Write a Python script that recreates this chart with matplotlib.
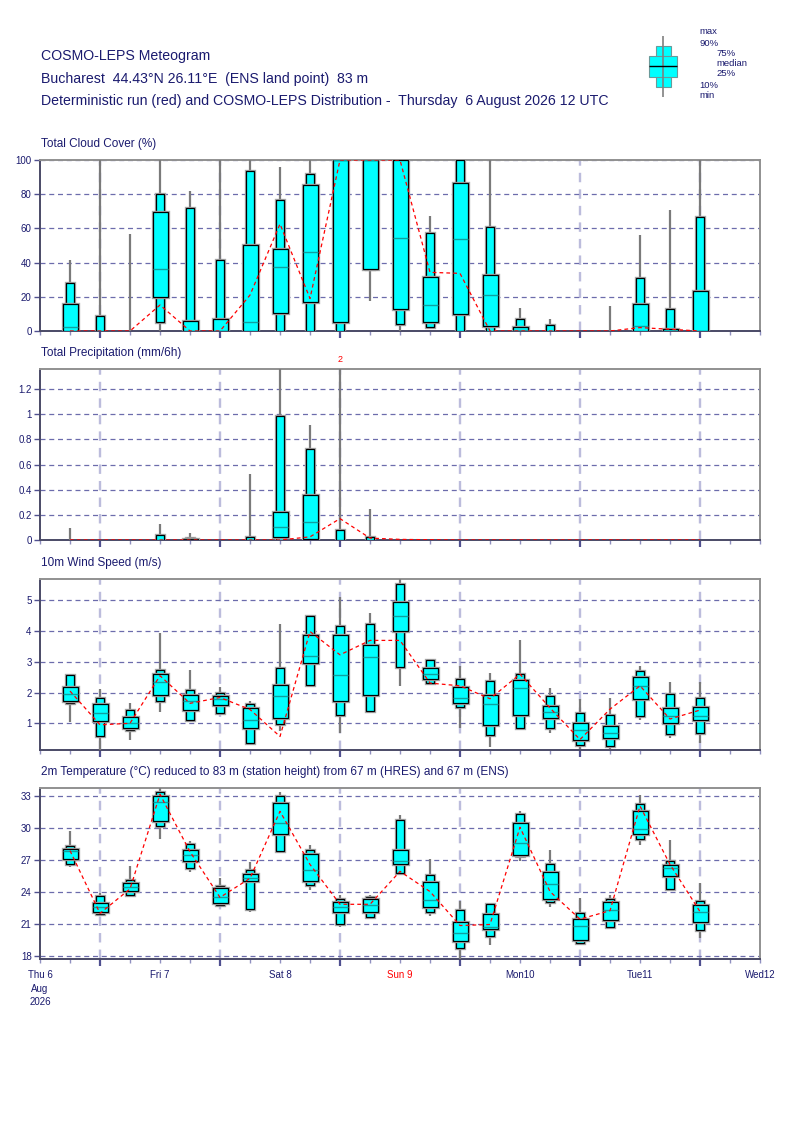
"""COSMO-LEPS meteogram for Bucharest, boxes per 6h step."""

import matplotlib
matplotlib.use('Agg')
import matplotlib.pyplot as plt
import matplotlib.patheffects as pe
import numpy as np

plt.rcParams['font.family'] = ['Liberation Sans Narrow', 'Liberation Sans', 'DejaVu Sans']

W, H = 800, 1131
NAVY = '#1a1a6e'

# forecast steps, hours after Thu 6 Aug 00 UTC
hours = [6, 12, 18, 24, 30, 36, 42, 48, 54, 60, 66,
         72, 78, 84, 90, 96, 102, 108, 114, 120, 126, 132]

day_ticks = [0, 24, 48, 72, 96, 120, 144]
day_labels = ['Thu 6\nAug\n2026', 'Fri 7', 'Sat 8', 'Sun 9', 'Mon10', 'Tue11', 'Wed12']

# Total cloud cover (%)
cc_max = [41.5, 100, 56.7, 100, 81.7, 100, 100, 96, 100, 100, 100, 100, 67.3, 100, 100, 13.3, 7.0, 0, 14.4, 56.1, 70.8, 100]
cc_p90 = [28.3, 8.8, 0, 80.1, 71.9, 41.3, 93.6, 76.6, 91.6, 100, 100, 100, 57.5, 100, 60.6, 6.8, 3.5, 0, 0, 30.8, 12.9, 66.5]
cc_p75 = [15.6, 0, 0, 69.4, 6.0, 6.8, 50.1, 47.8, 85.4, 100, 100, 100, 31.4, 86.4, 32.9, 2.1, 0, 0, 0, 15.6, 1.2, 23.2]
cc_med = [2.1, 0, 0, 36.5, 0, 0, 5.1, 37.6, 46, 100, 100, 54.2, 15, 53.6, 20.9, 0.5, 0, 0, 0, 2.7, 0, 0]
cc_p25 = [0, 0, 0, 20.1, 0, 0, 0, 10.3, 16.8, 5.5, 36, 12.9, 5.1, 10.1, 2.7, 0, 0, 0, 0, 0, 0, 0]
cc_p10 = [0, 0, 0, 5.1, 0, 0, 0, 0, 0, 0, 36, 3.9, 2.3, 0, 0, 0, 0, 0, 0, 0, 0, 0]
cc_min = [0, 0, 0, 0, 0, 0, 0, 0, 0, 0, 17.7, 0, 1.6, 0, 0, 0, 0, 0, 0, 0, 0, 0]
cc_det = [0, 0, 0, 15.2, 0, 0, 21, 62.6, 19, 100, 100, 100, 34.3, 33.7, 0, 0, 0, 0, 0, 2, 1, 0]

# Total precipitation (mm/6h)
pr_max = [0.092, 0, 0, 0.127, 0.055, 0, 0.523, 1.36, 0.914, 2.0, 0.243, 0, 0, 0, 0, 0, 0, 0, 0, 0, 0, 0]
pr_p90 = [0, 0, 0, 0.037, 0.015, 0, 0.024, 0.988, 0.721, 0.079, 0.021, 0, 0, 0, 0, 0, 0, 0, 0, 0, 0, 0]
pr_p75 = [0, 0, 0, 0, 0.005, 0, 0, 0.222, 0.359, 0, 0, 0, 0, 0, 0, 0, 0, 0, 0, 0, 0, 0]
pr_med = [0, 0, 0, 0, 0, 0, 0, 0.106, 0.143, 0, 0, 0, 0, 0, 0, 0, 0, 0, 0, 0, 0, 0]
pr_p25 = [0, 0, 0, 0, 0, 0, 0, 0.026, 0.008, 0, 0, 0, 0, 0, 0, 0, 0, 0, 0, 0, 0, 0]
pr_p10 = [0, 0, 0, 0, 0, 0, 0, 0, 0, 0, 0, 0, 0, 0, 0, 0, 0, 0, 0, 0, 0, 0]
pr_min = [0, 0, 0, 0, 0, 0, 0, 0, 0, 0, 0, 0, 0, 0, 0, 0, 0, 0, 0, 0, 0, 0]
pr_det = [0, 0, 0, 0, 0, 0, 0, 0, 0.025, 0.17, 0.015, 0.005, 0.002, 0, 0, 0, 0, 0, 0, 0, 0, 0]

# 10m wind speed (m/s)
ws_max = [2.62, 2.13, 1.66, 3.94, 2.74, 2.17, 1.74, 4.23, 4.52, 5.12, 4.59, 5.70, 3.08, 2.88, 2.65, 3.72, 2.15, 1.80, 1.82, 2.85, 2.34, 2.34]
ws_p90 = [2.58, 1.81, 1.43, 2.74, 2.10, 1.98, 1.62, 2.79, 4.48, 4.18, 4.22, 5.55, 3.06, 2.45, 2.38, 2.60, 1.88, 1.32, 1.26, 2.71, 1.94, 1.84]
ws_p75 = [2.17, 1.62, 1.19, 2.60, 1.91, 1.89, 1.51, 2.25, 3.87, 3.88, 3.56, 4.95, 2.80, 2.19, 1.91, 2.41, 1.57, 1.00, 0.90, 2.52, 1.50, 1.52]
ws_med = [1.97, 1.33, 1.01, 2.35, 1.71, 1.78, 1.12, 1.89, 3.20, 2.58, 3.16, 4.49, 2.60, 1.84, 1.63, 2.15, 1.37, 0.78, 0.70, 2.22, 1.23, 1.24]
ws_p25 = [1.71, 1.08, 0.85, 1.93, 1.44, 1.58, 0.85, 1.17, 2.95, 1.71, 1.92, 4.01, 2.44, 1.65, 0.95, 1.27, 1.17, 0.47, 0.52, 1.80, 1.02, 1.12]
ws_p10 = [1.65, 0.60, 0.77, 1.72, 1.10, 1.34, 0.36, 0.97, 2.26, 1.26, 1.41, 2.83, 2.31, 1.53, 0.63, 0.86, 0.84, 0.29, 0.25, 1.24, 0.66, 0.70]
ws_min = [1.03, 0.05, 0.44, 1.37, 1.10, 1.34, 0.36, 0.74, 2.17, 0.70, 1.41, 2.20, 2.31, 0.85, 0.22, 0.86, 0.68, 0.16, 0.17, 1.11, 0.52, 0.36]
ws_det = [2.05, 0.95, 1.00, 2.55, 1.65, 1.84, 1.45, 0.57, 3.99, 3.23, 3.70, 3.70, 2.31, 2.22, 1.80, 2.60, 1.50, 0.47, 1.46, 2.22, 1.14, 1.43]

# 2m temperature (deg C)
t_max = [29.79, 23.9, 26.41, 33.8, 28.78, 25.31, 26.79, 33.44, 28.46, 23.74, 23.74, 31.3, 27.11, 23.17, 23.01, 31.61, 27.99, 23.48, 23.7, 33.13, 28.87, 24.84]
t_p90 = [28.34, 23.67, 25.18, 33.44, 28.56, 24.62, 26.07, 33.03, 27.99, 23.36, 23.58, 30.79, 25.59, 22.32, 22.85, 31.39, 26.6, 22.0, 23.32, 32.31, 26.89, 23.17]
t_p75 = [28.08, 22.95, 24.81, 33.03, 27.96, 24.37, 25.69, 32.4, 27.58, 23.05, 23.36, 27.99, 24.93, 21.21, 21.91, 30.51, 25.85, 21.5, 23.07, 31.68, 26.57, 22.79]
t_med = [27.86, 22.57, 24.46, 32.46, 27.52, 23.51, 25.37, 30.51, 26.07, 22.57, 22.79, 26.92, 23.23, 20.17, 20.74, 28.65, 24.77, 20.77, 22.35, 29.94, 26.26, 22.16]
t_p25 = [27.07, 22.16, 24.14, 30.73, 26.92, 22.95, 25.03, 29.47, 25.06, 22.1, 22.16, 26.63, 22.57, 19.38, 20.49, 27.52, 23.32, 19.45, 21.37, 29.5, 25.56, 21.15]
t_p10 = [26.63, 21.94, 23.77, 30.26, 26.26, 22.79, 22.41, 27.83, 24.71, 21.0, 21.66, 25.78, 22.13, 18.69, 19.89, 27.39, 23.07, 19.16, 20.68, 28.97, 24.27, 20.39]
t_min = [26.38, 21.84, 23.77, 29.0, 25.85, 22.7, 22.13, 27.67, 24.24, 20.74, 21.66, 25.78, 21.75, 17.5, 19.0, 26.92, 22.63, 19.16, 20.68, 28.46, 24.14, 19.64]
t_det = [27.9, 22.0, 24.3, 33.2, 27.8, 23.5, 25.3, 31.6, 26.6, 22.85, 22.85, 25.95, 24.05, 20.85, 20.95, 30.1, 24.05, 21.45, 22.25, 32.1, 26.6, 22.16]


def px_rect(x0, y0, x1, y1):
    """pixel box (top-left origin) -> figure fraction rect"""
    return [x0 / W, 1 - y1 / H, (x1 - x0) / W, (y1 - y0) / H]


def draw_boxes(ax, mn, p10, p25, med, p75, p90, mx, det, ymax):
    x = np.array(hours, dtype=float)
    mn, p10, p25, med, p75, p90, mx = map(np.asarray, (mn, p10, p25, med, p75, p90, mx))
    halo = [pe.Stroke(linewidth=2.4, foreground='#a8a8a8'), pe.Normal()]

    ax.vlines(x, mn, np.minimum(mx, ymax), color='#7a7a7a', lw=1.6, zorder=3)

    m = (p90 - p10) > 0
    bars = ax.bar(x[m], (p90 - p10)[m], bottom=p10[m], width=1.6, color='#00ffff',
                  edgecolor='black', lw=0.9, zorder=4)
    for b in bars:
        b.set_path_effects(halo)
    m = (p75 - p25) > 0
    bars = ax.bar(x[m], (p75 - p25)[m], bottom=p25[m], width=3.0, color='#00ffff',
                  edgecolor='black', lw=0.9, zorder=5)
    for b in bars:
        b.set_path_effects(halo)
    ax.hlines(med[m], x[m] - 1.5, x[m] + 1.5, color='#10a0a0', lw=1.0, zorder=6)

    ax.plot(x, det, color='red', lw=0.9, dashes=(3, 2.5), zorder=7)

    # values above the frame are written in red
    for xi, v in zip(x, mx):
        if v > ymax * 1.05:
            ax.text(xi, ymax * 1.03, f'{v:g}', color='red', fontsize=6.5, ha='center',
                    va='bottom')


def style_axes(ax, ylim, yticks, fmt, show_labels):
    ax.set_xlim(0, 144)
    ax.set_ylim(*ylim)
    ax.set_yticks(yticks)
    ax.set_yticklabels([fmt(v) for v in yticks])
    ax.set_xticks([12, 36, 60, 84, 108, 132])
    ax.set_xticklabels([])
    ax.set_xticks(list(range(0, 145, 6)), minor=True)
    if show_labels:
        labs = []
        for h in range(0, 145, 6):
            labs.append(day_labels[day_ticks.index(h)] if h in day_ticks else '')
        ax.set_xticklabels(labs, minor=True, fontsize=7, color=NAVY, linespacing=1.45)
        for t in ax.get_xticklabels(minor=True):
            if t.get_text() == 'Sun 9':
                t.set_color('red')
    ax.tick_params(axis='x', which='major', direction='out', length=5, width=1.6,
                   color='#505090')
    ax.tick_params(axis='x', which='minor', direction='out', length=3, width=1,
                   color='#9090c0', pad=5)
    ax.tick_params(axis='y', direction='out', length=4, width=1, color='#505090',
                   labelsize=7, labelcolor=NAVY, pad=2)
    ax.grid(axis='y', linestyle=(0, (4, 3)), color='#6c6cac', lw=0.9)
    ax.grid(axis='x', which='major', linestyle=(0, (4, 3)), color='#bcbcdc', lw=1.7)
    ax.set_axisbelow(True)
    for s in ('left', 'bottom'):
        ax.spines[s].set_color('#4a4a66')
        ax.spines[s].set_linewidth(1.4)
    for s in ('top', 'right'):
        ax.spines[s].set_color('#909090')
        ax.spines[s].set_linewidth(1.4)


fig = plt.figure(figsize=(W / 100, H / 100), dpi=100)

# headers
fig.text(41 / W, 1 - 56 / H, 'COSMO-LEPS Meteogram', fontsize=10.2, color=NAVY, va='center')
fig.text(41 / W, 1 - 79 / H, 'Bucharest  44.43°N 26.11°E  (ENS land point)  83 m',
         fontsize=10.2, color=NAVY, va='center')
fig.text(41 / W, 1 - 101 / H,
         'Deterministic run (red) and COSMO-LEPS Distribution -  Thursday  6 August 2026 12 UTC',
         fontsize=10.2, color=NAVY, va='center')

panels = [
    (160, 331, 'Total Cloud Cover (%)',
     (cc_min, cc_p10, cc_p25, cc_med, cc_p75, cc_p90, cc_max, cc_det),
     (0, 100), [0, 20, 40, 60, 80, 100], lambda v: f'{v:g}'),
    (369, 540, 'Total Precipitation (mm/6h)',
     (pr_min, pr_p10, pr_p25, pr_med, pr_p75, pr_p90, pr_max, pr_det),
     (0, 1.36), [0, 0.2, 0.4, 0.6, 0.8, 1.0, 1.2], lambda v: f'{v:g}'),
    (579, 750, '10m Wind Speed (m/s)',
     (ws_min, ws_p10, ws_p25, ws_med, ws_p75, ws_p90, ws_max, ws_det),
     (0.13, 5.7), [1, 2, 3, 4, 5], lambda v: f'{v:g}'),
    (788, 959, '2m Temperature (°C) reduced to 83 m (station height) from 67 m (HRES) and 67 m (ENS)',
     (t_min, t_p10, t_p25, t_med, t_p75, t_p90, t_max, t_det),
     (17.7, 33.8), [18, 21, 24, 27, 30, 33], lambda v: f'{v:g}'),
]

for i, (top, bot, title, series, ylim, yticks, fmt) in enumerate(panels):
    ax = fig.add_axes(px_rect(40, top, 760, bot))
    style_axes(ax, ylim, yticks, fmt, show_labels=(i == len(panels) - 1))
    draw_boxes(ax, *series, ymax=ylim[1])
    fig.text(41 / W, 1 - (top - 16) / H, title, fontsize=8.5, color=NAVY, va='center')

# legend explaining the boxes (top right)
lax = fig.add_axes(px_rect(640, 30, 760, 102))
lax.set_xlim(0, 120)
lax.set_ylim(102, 30)
lax.axis('off')
lax.vlines(23, 36, 97, color='#808080', lw=1.2)
lax.bar(23, 87 - 46, bottom=46, width=15, color='#00ffff', edgecolor='#6a9a9a', lw=0.8)
lax.bar(23, 77 - 56, bottom=56, width=28, color='#00ffff', edgecolor='#6a9a9a', lw=0.8)
lax.hlines(66, 9, 37, color='black', lw=1.0)
for lx, ly, txt in [(59, 32, 'max'), (59, 43, '90%'), (76, 53, '75%'), (76, 63, 'median'),
                    (76, 74, '25%'), (59, 85, '10%'), (59, 95, 'min')]:
    lax.text(lx, ly, txt, fontsize=6.8, color=NAVY, va='center', ha='left')

fig.savefig('out.png', dpi=100)
